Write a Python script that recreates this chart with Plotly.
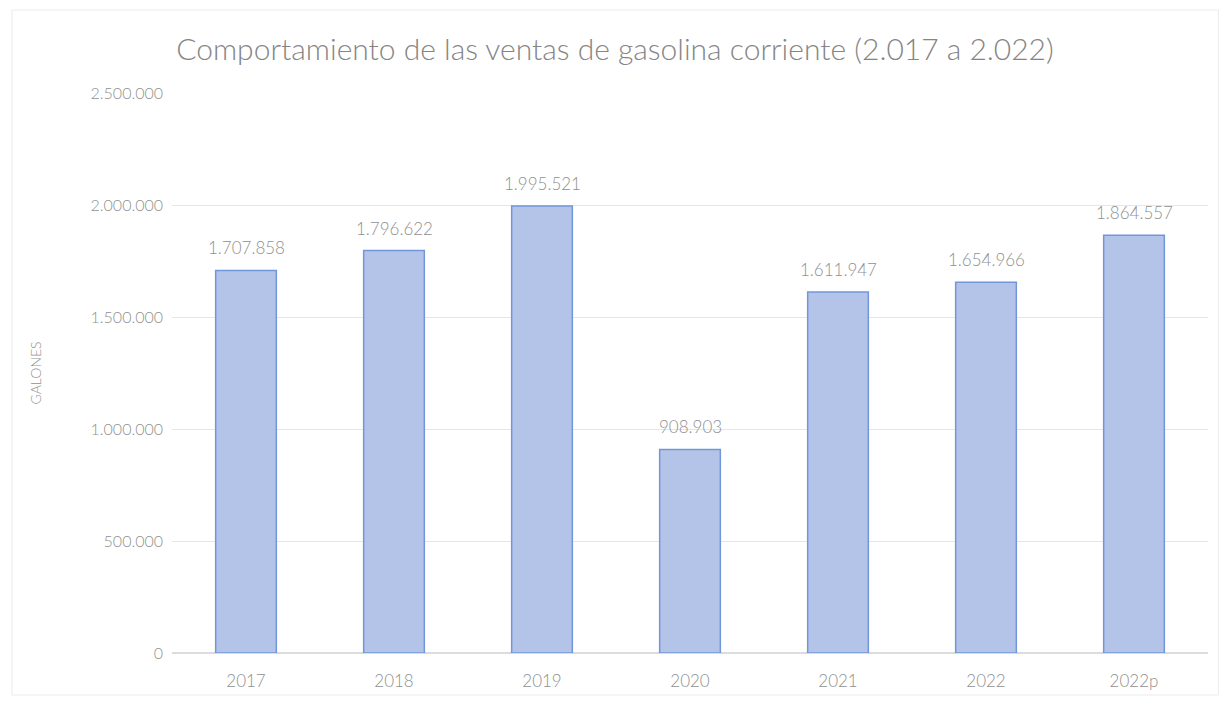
import plotly.graph_objects as go

categories = ["2017", "2018", "2019", "2020", "2021", "2022", "2022p"]
values = [1707858, 1796622, 1995521, 908903, 1611947, 1654966, 1864557]
value_labels = ["1.707.858", "1.796.622", "1.995.521", "908.903", "1.611.947", "1.654.966", "1.864.557"]
tick_vals = [0, 500000, 1000000, 1500000, 2000000, 2500000]
tick_text = ["0", "500.000", "1.000.000", "1.500.000", "2.000.000", "2.500.000"]

FONT = "Lato"
GRAY = "#909090"

fig = go.Figure(go.Bar(
    x=categories, y=values,
    marker=dict(color="#b3c4e8", line=dict(color="#7196db", width=1.5)),
))

for i, (v, t) in enumerate(zip(values, value_labels)):
    fig.add_annotation(x=i, y=v, text=t, showarrow=False, yanchor="bottom", yshift=10,
                       font=dict(family=FONT, size=17, color=GRAY, weight=300))

fig.update_layout(
    width=1230, height=702,
    margin=dict(l=172, r=22, t=93, b=49),
    paper_bgcolor="white", plot_bgcolor="white",
    bargap=0.59,
    showlegend=False,
    title=dict(text="Comportamiento de las ventas de gasolina corriente (2.017 a 2.022)",
               x=0.5, xref="container", xanchor="center", y=0.93, yanchor="middle",
               font=dict(family=FONT, size=30, color="#858585", weight=300)),
    font=dict(family=FONT, color=GRAY),
)
fig.update_xaxes(type="category", categoryorder="array", categoryarray=categories,
                 range=[-0.5, len(categories) - 0.5],
                 showline=False, ticks="", ticklabelstandoff=16,
                 tickfont=dict(family=FONT, size=17, color=GRAY, weight=300))
fig.update_yaxes(range=[0, 2500000], tickvals=tick_vals, ticktext=tick_text,
                 showgrid=True, gridcolor="#e6e6e6", gridwidth=1, zeroline=True,
                 zerolinecolor="#dcdcdc", ticks="", ticklabelstandoff=8,
                 tickfont=dict(family=FONT, size=16, color=GRAY, weight=300),
                 title=dict(text="GALONES", font=dict(family=FONT, size=14, color=GRAY, weight=300), standoff=45))

fig.add_shape(type="rect", xref="paper", yref="paper",
              x0=-160/1036, x1=1.01, y0=-42/560, y1=1+83/560,
              line=dict(color="#ebebeb", width=1))

fig.write_html("out.html")
